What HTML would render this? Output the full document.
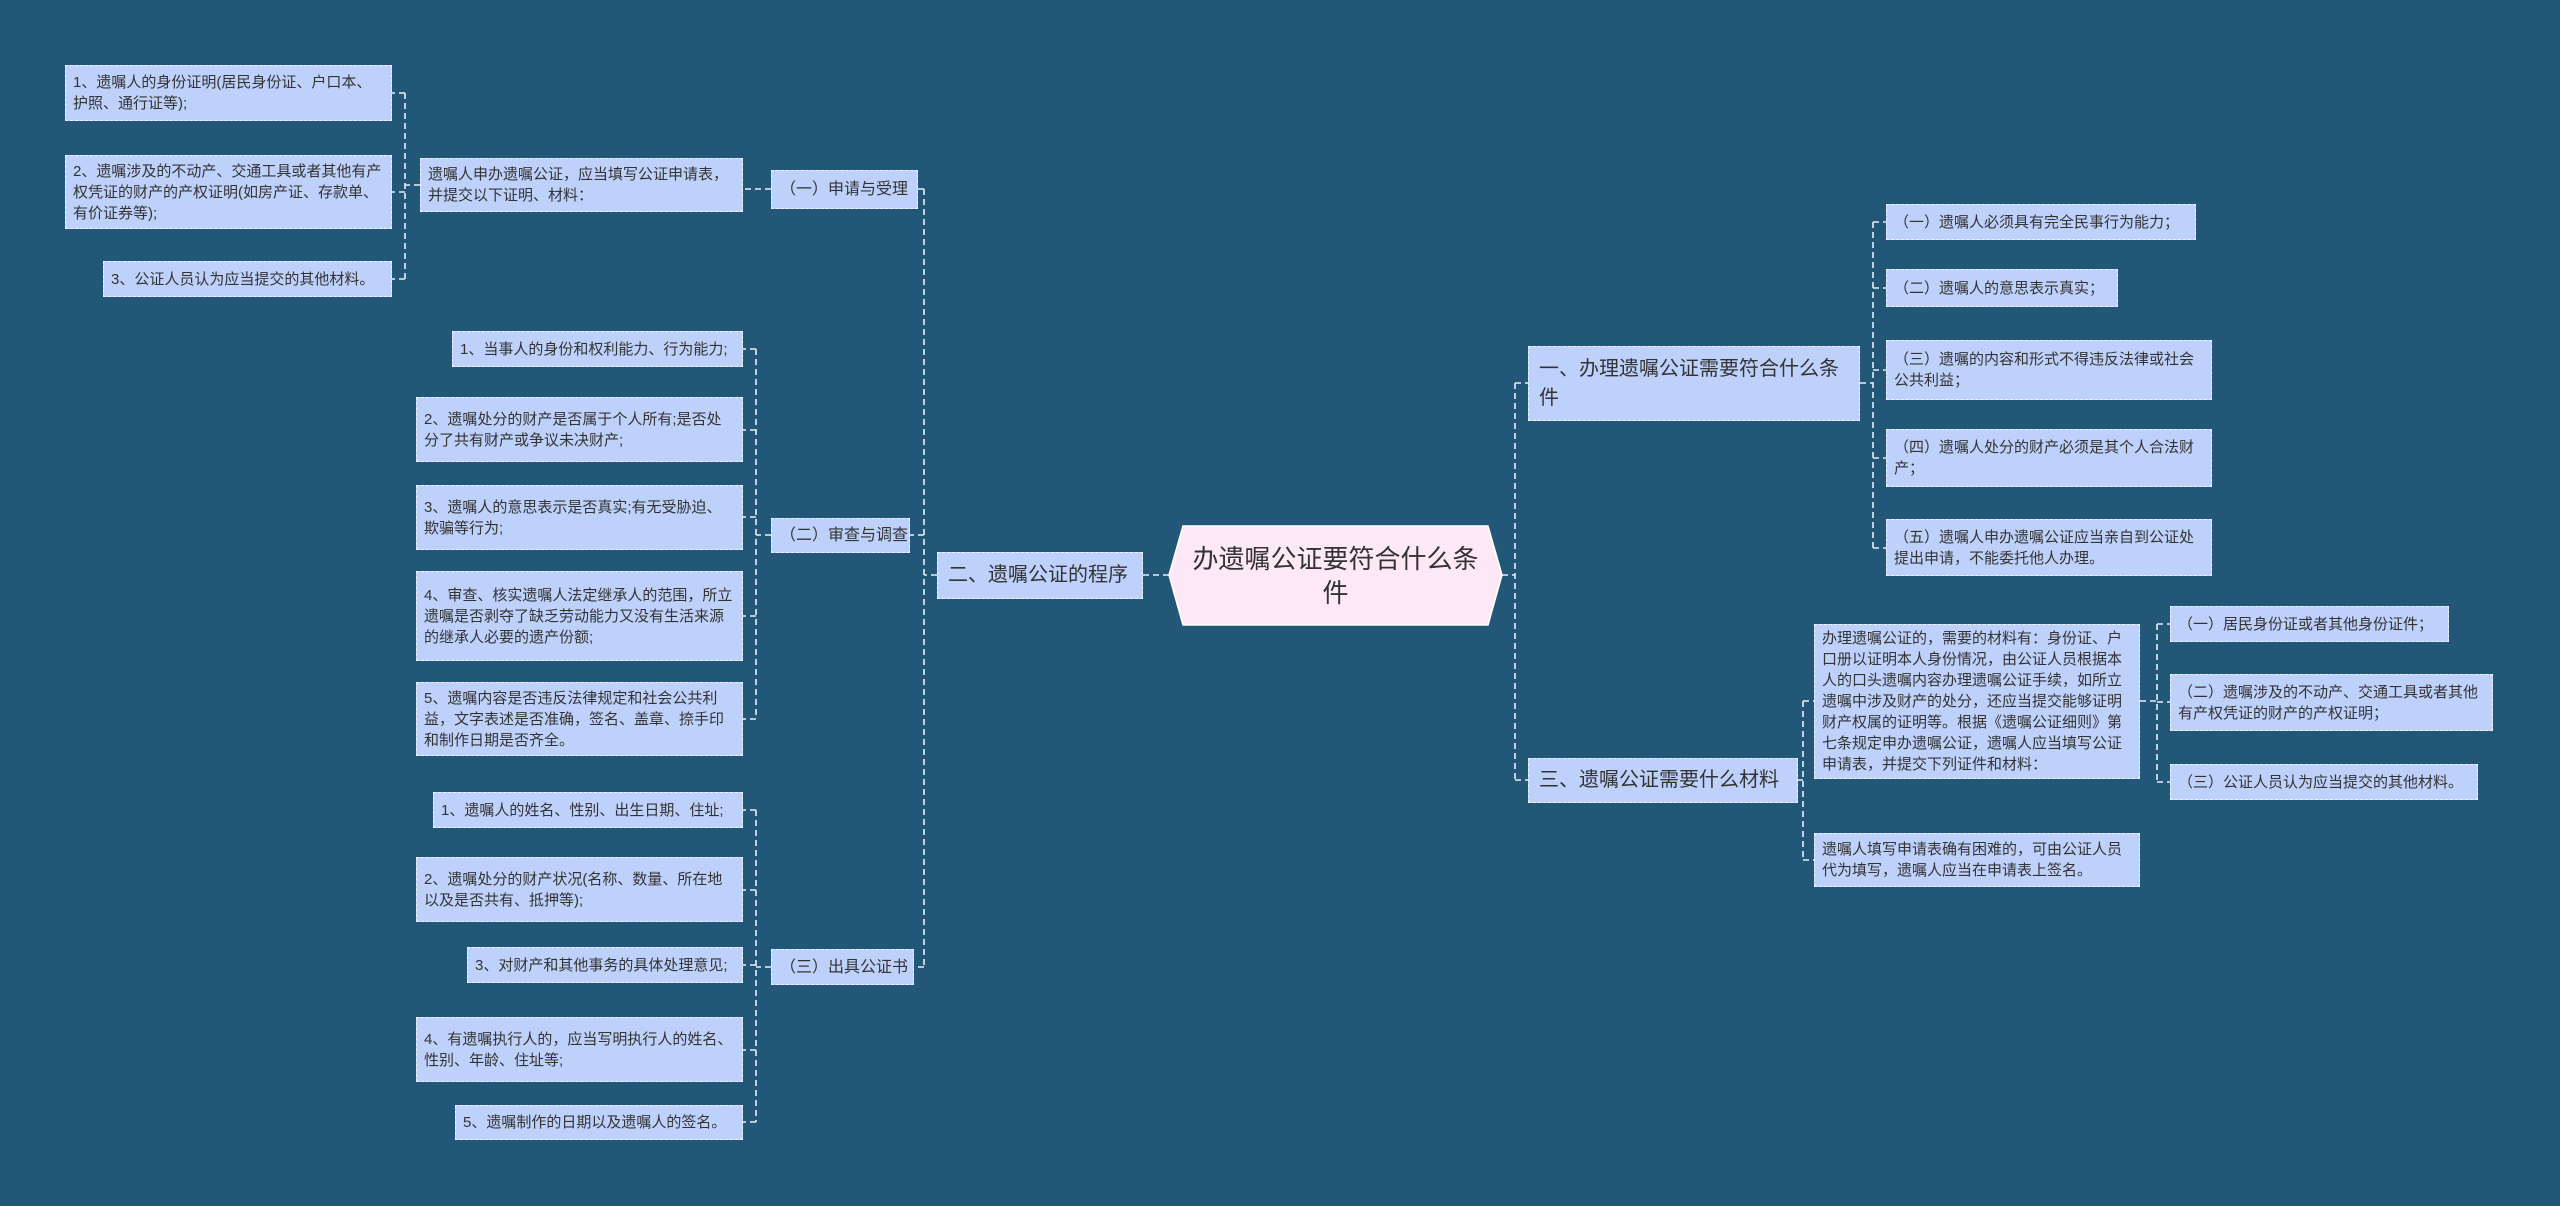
<!DOCTYPE html>
<html><head><meta charset="utf-8"><style>
body{margin:0;width:2560px;height:1206px;background:#235778;overflow:hidden;position:relative;font-family:"Liberation Sans","Noto Sans CJK SC",sans-serif}
.b{position:absolute;box-sizing:border-box;background:#bed1fb;border:1.5px dashed #eef3ff;color:#333;font-size:15px;line-height:21px;padding:0 7px;display:flex;align-items:center}
.s{white-space:nowrap}
.l2{font-size:16px;white-space:nowrap;padding:0 8px}
.l1{font-size:20px;line-height:29px;padding:0 10px}
svg{position:absolute;left:0;top:0}
</style></head><body>
<svg width="2560" height="1206">
<g stroke="#e8eef8" stroke-width="1.6" fill="none" stroke-dasharray="6,4">
<path d="M1169 575 H1143 M937 575 H924 M924 189 V967 M924 189 H918 M924 535 H910 M924 967 H914"/>
<path d="M771 189 H743 M420 185 H405 M405 93 V279 M405 93 H392 M405 192 H392 M405 279 H392"/>
<path d="M771 535 H756 M756 349 V719 M756 349 H743 M756 430 H743 M756 517 H743 M756 616 H743 M756 719 H743"/>
<path d="M771 967 H756 M756 810 V1122 M756 810 H743 M756 890 H743 M756 965 H743 M756 1050 H743 M756 1122 H743"/>
<path d="M1502 575 H1515 M1515 383 V780 M1515 383 H1528 M1515 780 H1528"/>
<path d="M1860 383 H1873 M1873 222 V548 M1873 222 H1886 M1873 288 H1886 M1873 370 H1886 M1873 458 H1886 M1873 548 H1886"/>
<path d="M1798 780 H1803 M1803 701 V860 M1803 701 H1814 M1803 860 H1814"/>
<path d="M2140 701 H2157 M2157 624 V782 M2157 624 H2170 M2157 702 H2170 M2157 782 H2170"/>
</g>
<polygon points="1183,526 1488,526 1502,575 1488,625 1183,625 1169,575" fill="#fde8f6" stroke="#fff" stroke-width="1.5"/>
</svg>
<div style="position:absolute;left:1169px;top:526px;width:333px;height:99px;display:flex;align-items:center;justify-content:center;text-align:center;font-size:26px;line-height:34px;color:#333;padding:0 18px;box-sizing:border-box">办遗嘱公证要符合什么条件</div>

<div class="b l1 s" style="left:937px;top:552px;width:206px;height:47px">二、遗嘱公证的程序</div>
<div class="b l1" style="left:1528px;top:346px;width:332px;height:75px">一、办理遗嘱公证需要符合什么条件</div>
<div class="b l1 s" style="left:1528px;top:758px;width:270px;height:45px">三、遗嘱公证需要什么材料</div>

<div class="b l2" style="left:771px;top:170px;width:147px;height:39px">（一）申请与受理</div>
<div class="b l2" style="left:771px;top:518px;width:139px;height:35px">（二）审查与调查</div>
<div class="b l2" style="left:771px;top:949px;width:143px;height:36px">（三）出具公证书</div>

<div class="b" style="left:420px;top:158px;width:323px;height:54px">遗嘱人申办遗嘱公证，应当填写公证申请表，并提交以下证明、材料：</div>
<div class="b" style="left:65px;top:65px;width:327px;height:56px">1、遗嘱人的身份证明(居民身份证、户口本、护照、通行证等);</div>
<div class="b" style="left:65px;top:155px;width:327px;height:74px">2、遗嘱涉及的不动产、交通工具或者其他有产权凭证的财产的产权证明(如房产证、存款单、有价证券等);</div>
<div class="b s" style="left:103px;top:261px;width:289px;height:36px">3、公证人员认为应当提交的其他材料。</div>

<div class="b s" style="left:452px;top:331px;width:291px;height:36px">1、当事人的身份和权利能力、行为能力;</div>
<div class="b" style="left:416px;top:397px;width:327px;height:65px">2、遗嘱处分的财产是否属于个人所有;是否处分了共有财产或争议未决财产;</div>
<div class="b" style="left:416px;top:485px;width:327px;height:65px">3、遗嘱人的意思表示是否真实;有无受胁迫、欺骗等行为;</div>
<div class="b" style="left:416px;top:571px;width:327px;height:90px">4、审查、核实遗嘱人法定继承人的范围，所立遗嘱是否剥夺了缺乏劳动能力又没有生活来源的继承人必要的遗产份额;</div>
<div class="b" style="left:416px;top:682px;width:327px;height:74px">5、遗嘱内容是否违反法律规定和社会公共利益，文字表述是否准确，签名、盖章、捺手印和制作日期是否齐全。</div>

<div class="b s" style="left:433px;top:792px;width:310px;height:36px">1、遗嘱人的姓名、性别、出生日期、住址;</div>
<div class="b" style="left:416px;top:857px;width:327px;height:65px">2、遗嘱处分的财产状况(名称、数量、所在地以及是否共有、抵押等);</div>
<div class="b s" style="left:467px;top:947px;width:276px;height:36px">3、对财产和其他事务的具体处理意见;</div>
<div class="b" style="left:416px;top:1017px;width:327px;height:65px">4、有遗嘱执行人的，应当写明执行人的姓名、性别、年龄、住址等;</div>
<div class="b s" style="left:455px;top:1105px;width:288px;height:35px">5、遗嘱制作的日期以及遗嘱人的签名。</div>

<div class="b s" style="left:1886px;top:204px;width:310px;height:36px">（一）遗嘱人必须具有完全民事行为能力；</div>
<div class="b s" style="left:1886px;top:269px;width:232px;height:38px">（二）遗嘱人的意思表示真实；</div>
<div class="b" style="left:1886px;top:340px;width:326px;height:60px">（三）遗嘱的内容和形式不得违反法律或社会公共利益；</div>
<div class="b" style="left:1886px;top:429px;width:326px;height:58px">（四）遗嘱人处分的财产必须是其个人合法财产；</div>
<div class="b" style="left:1886px;top:519px;width:326px;height:57px">（五）遗嘱人申办遗嘱公证应当亲自到公证处提出申请，不能委托他人办理。</div>

<div class="b" style="left:1814px;top:624px;width:326px;height:155px;line-height:21px">办理遗嘱公证的，需要的材料有：身份证、户口册以证明本人身份情况，由公证人员根据本人的口头遗嘱内容办理遗嘱公证手续，如所立遗嘱中涉及财产的处分，还应当提交能够证明财产权属的证明等。根据《遗嘱公证细则》第七条规定申办遗嘱公证，遗嘱人应当填写公证申请表，并提交下列证件和材料：</div>
<div class="b" style="left:1814px;top:833px;width:326px;height:54px">遗嘱人填写申请表确有困难的，可由公证人员代为填写，遗嘱人应当在申请表上签名。</div>

<div class="b s" style="left:2170px;top:606px;width:279px;height:36px">（一）居民身份证或者其他身份证件；</div>
<div class="b" style="left:2170px;top:674px;width:323px;height:57px">（二）遗嘱涉及的不动产、交通工具或者其他有产权凭证的财产的产权证明；</div>
<div class="b s" style="left:2170px;top:764px;width:308px;height:36px">（三）公证人员认为应当提交的其他材料。</div>
</body></html>
